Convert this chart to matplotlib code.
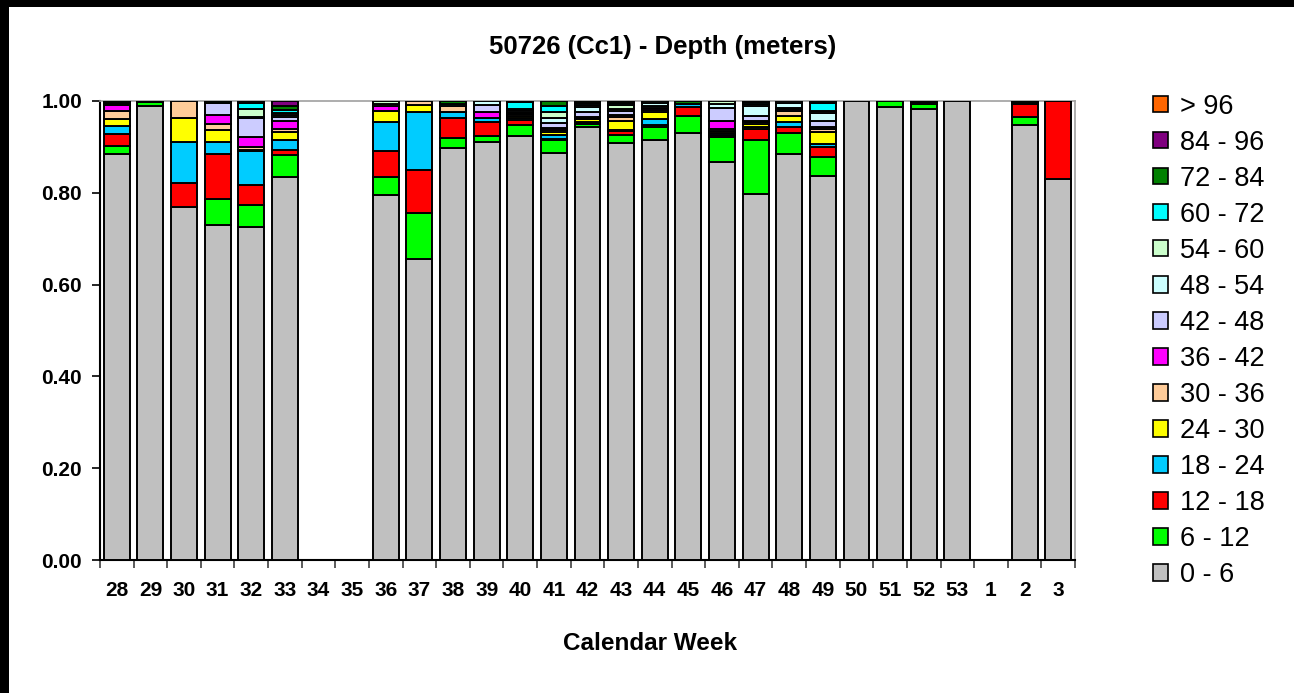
import matplotlib
matplotlib.use("Agg")
import matplotlib.pyplot as plt
from matplotlib.patches import Patch, Rectangle
import numpy as np

# ── Data ─────────────────────────────────────────────────────────────────────
weeks = ["28", "29", "30", "31", "32", "33", "34", "35", "36", "37", "38", "39",
         "40", "41", "42", "43", "44", "45", "46", "47", "48", "49", "50", "51",
         "52", "53", "1", "2", "3"]

bins = ["0 - 6", "6 - 12", "12 - 18", "18 - 24", "24 - 30", "30 - 36", "36 - 42",
        "42 - 48", "48 - 54", "54 - 60", "60 - 72", "72 - 84", "84 - 96", "> 96"]

bin_colors = ["#C0C0C0", "#00FF00", "#FF0000", "#00CCFF", "#FFFF00", "#FFCC99",
              "#FF00FF", "#CCCCFF", "#CCFFFF", "#CCFFCC", "#00FFFF", "#008000",
              "#800080", "#FF6600"]

d0_6 = [.885, .990, .770, .730, .725, .834, 0, 0, .795, .656, .897, .911, .924, .886, .944,
        .908, .916, .930, .868, .797, .885, .837, 1.0, .986, .982, 1.0, 0, .948, .831]
d6_12 = [.017, .008, 0, .057, .048, .048, 0, 0, .040, .101, .023, .013, .024, .028, .005,
         .018, .028, .037, .054, .117, .045, .040, 0, .014, .011, 0, 0, .017, 0]
d12_18 = [.026, .002, .052, .097, .044, .011, 0, 0, .055, .093, .044, .031, .010, .004, .003,
          .008, .004, .020, .004, .026, .014, .022, 0, 0, .003, 0, 0, .028, .169]
d18_24 = [.018, 0, .089, .026, .073, .022, 0, 0, .065, .127, .013, .009, .004, .008, .003,
          .003, .013, .006, .004, .004, .011, .007, 0, 0, .002, 0, 0, .003, 0]
d24_30 = [.015, 0, .053, .027, .004, .018, 0, 0, .024, .014, 0, 0, .006, .006, .005,
          .019, .016, 0, .004, .006, .012, .027, 0, 0, 0, 0, 0, 0, 0]
d30_36 = [.017, 0, .036, .013, .006, .007, 0, 0, 0, .009, .012, 0, .003, .005, .003,
          .009, .004, 0, .004, .004, .012, .006, 0, 0, 0, 0, 0, 0, 0]
d36_42 = [.013, 0, 0, .019, .022, .017, 0, 0, .010, 0, 0, .011, .003, .005, .003,
          .004, .004, 0, .019, .003, .003, .004, 0, 0, 0, 0, 0, 0, 0]
d42_48 = [.002, 0, 0, .026, .040, .009, 0, 0, .004, 0, 0, .016, .003, .011, .009,
          .010, .004, 0, .027, .010, .003, .013, 0, 0, 0, 0, 0, 0, 0]
d48_54 = [0, 0, 0, 0, .003, .004, 0, 0, 0, 0, 0, .009, .003, .011, .013,
          .004, .007, 0, .010, .022, .011, .017, 0, 0, 0, 0, 0, 0, 0]
d54_60 = [0, 0, 0, 0, .018, .004, 0, 0, .007, 0, 0, 0, .003, .011, .004,
          .009, .004, 0, .006, .004, .004, .006, 0, 0, 0, 0, 0, 0, 0]
d60_72 = [.002, 0, 0, 0, .013, .006, 0, 0, 0, 0, .004, 0, .014, .014, .004,
          .004, 0, 0, 0, .004, 0, .016, 0, 0, 0, 0, 0, 0, 0]
d72_84 = [.005, 0, 0, .005, .004, .009, 0, 0, 0, 0, .007, 0, .003, .011, .004,
          .004, 0, .007, 0, .003, 0, .005, 0, 0, .002, 0, 0, .004, 0]
d84_96 = [0, 0, 0, 0, 0, .011, 0, 0, 0, 0, 0, 0, 0, 0, 0,
          0, 0, 0, 0, 0, 0, 0, 0, 0, 0, 0, 0, 0, 0]
d96 = [0] * len(weeks)

series = [d0_6, d6_12, d12_18, d18_24, d24_30, d30_36, d36_42,
          d42_48, d48_54, d54_60, d60_72, d72_84, d84_96, d96]

# ── Figure ───────────────────────────────────────────────────────────────────
W, H = 1294, 693
plt.rcParams["font.family"] = ["Liberation Sans", "DejaVu Sans"]
fig = plt.figure(figsize=(W / 100, H / 100), dpi=100)
fig.patch.set_facecolor("white")

ax = fig.add_axes([100 / W, 1 - 560 / H, (1075 - 100) / W, (560 - 101) / H])

x = np.arange(len(weeks))
bottom = np.zeros(len(weeks))
for vals, col in zip(series, bin_colors):
    v = np.asarray(vals, dtype=float)
    m = v > 0
    if m.any():
        ax.bar(x[m], v[m], bottom=bottom[m], width=0.77, color=col,
               edgecolor="black", linewidth=1.4, zorder=3)
    bottom += v

ax.set_xlim(-0.5, len(weeks) - 0.5)
ax.set_ylim(0, 1.0)

yt = np.arange(0, 1.01, 0.2)
ax.set_yticks(yt)
ax.set_yticklabels([f"{t:.2f}" for t in yt], fontsize=15, fontweight="bold")
ax.set_xticks(x)
ax.set_xticklabels(weeks, fontsize=15, fontweight="bold")
ax.tick_params(axis="x", length=0, pad=15)
ax.set_xticks(np.arange(-0.5, len(weeks)), minor=True)
ax.tick_params(axis="x", which="minor", length=6, width=1.2, color="#404040",
               direction="out")
ax.tick_params(axis="y", length=6, width=1.2, direction="out", pad=7)

for s in ["left", "bottom"]:
    ax.spines[s].set_color("black")
    ax.spines[s].set_linewidth(1.5)
for s in ["top", "right"]:
    ax.spines[s].set_color("#A0A0A0")
    ax.spines[s].set_linewidth(1.2)

fig.text(663 / W, 1 - 47 / H, "50726 (Cc1) - Depth (meters)", ha="center",
         va="center", fontsize=18.5, fontweight="bold")
fig.text(650 / W, 1 - 643 / H, "Calendar Week", ha="center", va="center",
         fontsize=17.5, fontweight="bold")

handles = [Patch(facecolor=c, edgecolor="black", linewidth=1.2, label=b)
           for b, c in zip(bins, bin_colors)][::-1]
fig.legend(handles=handles, loc="upper left",
           bbox_to_anchor=(1142 / W, 1 - 83 / H), frameon=False,
           fontsize=19.5, handlelength=0.55, handleheight=0.55,
           handletextpad=0.45, labelspacing=0.37, borderaxespad=0)

# black border strips along top and left edge
fig.add_artist(Rectangle((0, 1 - 7 / H), 1, 7 / H, transform=fig.transFigure,
                         facecolor="black", edgecolor="none"))
fig.add_artist(Rectangle((0, 0), 9 / W, 1, transform=fig.transFigure,
                         facecolor="black", edgecolor="none"))

fig.savefig("out.png", dpi=100, facecolor="white")
